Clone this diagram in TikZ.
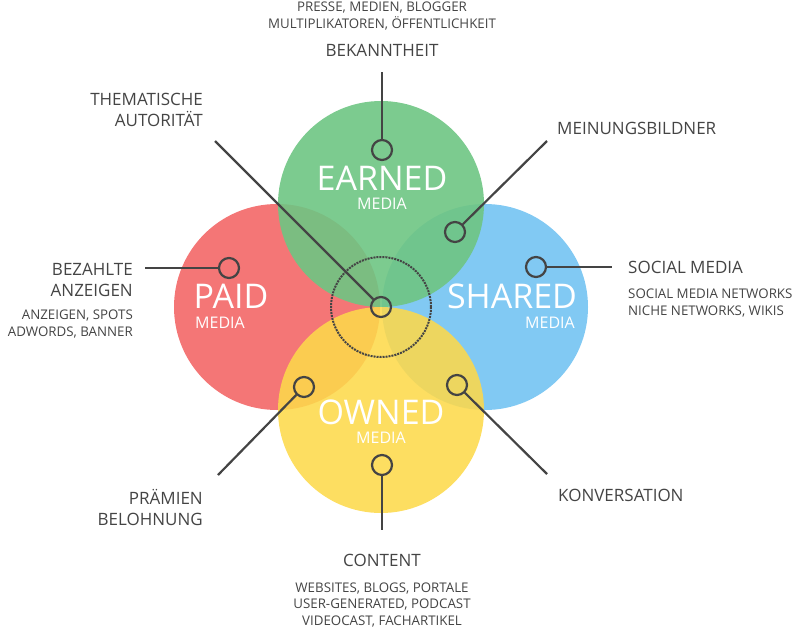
\documentclass[tikz,border=0pt]{standalone}
\usepackage{fontspec}
\setmainfont{Open Sans}
\begin{document}
\begin{tikzpicture}[x=1pt,y=-1pt,
  big/.style={text=white,font=\fontsize{34}{34}\selectfont,inner sep=0},
  med/.style={text=white,font=\fontsize{16}{16}\selectfont,inner sep=0},
  lab/.style={text=txt,font=\fontsize{17}{21}\selectfont,inner sep=0,align=center},
  sm/.style={text=txt,font=\fontsize{13.3}{16.5}\selectfont,inner sep=0},
  dot/.style={circle,draw=txt,line width=2.2pt,minimum size=20pt,inner sep=0},
  con/.style={draw=txt,line width=2.2pt}]
\definecolor{txt}{HTML}{444444}
\definecolor{cr}{HTML}{F47272}
\definecolor{cg}{HTML}{6EC583}
\definecolor{cb}{HTML}{7DC7F3}
\definecolor{cy}{HTML}{FDD94B}
\useasboundingbox (0,0) rectangle (800,630);
\fill[cr,fill opacity=0.97] (277,307) circle (103);
\fill[cb,fill opacity=0.97] (485,307) circle (103);
\fill[cg,fill opacity=0.9] (381,204) circle (103);
\fill[cy,fill opacity=0.88] (381,410) circle (103);
\draw[txt,densely dotted,line width=2pt] (381,307) circle (50);
\node[big] at (382,178) {EARNED};
\node[med] at (382,204) {MEDIA};
\node[big] at (231,296) {PAID};
\node[med,anchor=west] at (195,323) {MEDIA};
\node[big] at (512,296) {SHARED};
\node[med,anchor=east] at (575,323) {MEDIA};
\node[big] at (381,412) {OWNED};
\node[med] at (381,438) {MEDIA};
% dots
\node[dot] (d1) at (382,150) {};
\node[dot] (d2) at (455,232) {};
\node[dot] (d3) at (229,268) {};
\node[dot] (d4) at (536,267) {};
\node[dot] (d5) at (381,307) {};
\node[dot] (d6) at (304,387) {};
\node[dot] (d7) at (457,385) {};
\node[dot] (d8) at (382,465) {};
\coordinate (e1) at (382,72);
\coordinate (e2) at (547,141);
\coordinate (e3) at (145,268);
\coordinate (e4) at (612,267);
\coordinate (e5) at (215,141);
\coordinate (e6) at (218,475);
\coordinate (e7) at (547,474);
\coordinate (e8) at (382,530);
\foreach \i in {1,...,8} \draw[con] (d\i) -- (e\i);
% labels
\node[sm,align=center] (t1) at (382,16) {PRESSE, MEDIEN, BLOGGER\\MULTIPLIKATOREN, ÖFFENTLICHKEIT};
\node[lab] (l1) at (382,50) {BEKANNTHEIT};
\node[lab,align=right,anchor=east] (l5) at (203,110) {THEMATISCHE\\AUTORITÄT};
\node[lab,anchor=west] (l2) at (557,128) {MEINUNGSBILDNER};
\node[lab,align=right,anchor=east] (l3) at (133,280) {BEZAHLTE\\ANZEIGEN};
\node[sm,align=right,anchor=east] (t3) at (133,324) {ANZEIGEN, SPOTS\\ADWORDS, BANNER};
\node[lab,anchor=west] (l4) at (628,267) {SOCIAL MEDIA};
\node[sm,align=left,anchor=west] (t4) at (628,303) {SOCIAL MEDIA NETWORKS\\NICHE NETWORKS, WIKIS};
\node[lab,align=right,anchor=east] (l6) at (203,507) {PRÄMIEN\\BELOHNUNG};
\node[lab,anchor=west] (l7) at (558,495) {KONVERSATION};
\node[lab] (l8) at (382,560) {CONTENT};
\node[sm,align=center] (t8) at (382,605) {WEBSITES, BLOGS, PORTALE\\USER-GENERATED, PODCAST\\VIDEOCAST, FACHARTIKEL};
\end{tikzpicture}
\end{document}
